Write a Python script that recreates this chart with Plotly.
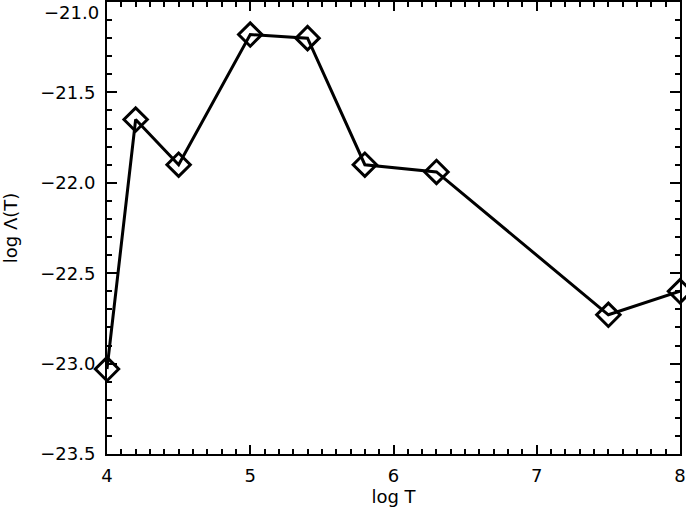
import plotly.graph_objects as go

# cooling function, log Lambda(T) vs log T
log_t = [4.0, 4.2, 4.5, 5.0, 5.4, 5.8, 6.3, 7.5, 8.0]
log_lambda = [-23.03, -21.65, -21.9, -21.18, -21.2, -21.9, -21.94, -22.73, -22.6]

x_ticks = [4, 5, 6, 7, 8]
y_ticks = [-23.5, -23.0, -22.5, -22.0, -21.5]
y_labels = ["\u221223.5", "\u221223.0", "\u221222.5", "\u221222.0", "\u221221.5"]
y_top_label = "\u221221.0"

font = dict(family="DejaVu Sans", size=18, color="black")

fig = go.Figure(go.Scatter(
    x=log_t,
    y=log_lambda,
    mode="lines+markers",
    line=dict(color="black", width=3),
    marker=dict(symbol="diamond-open", size=18, color="black", line=dict(width=3, color="black")),
    cliponaxis=False,
))

axis_common = dict(
    showline=True, linecolor="black", linewidth=2, mirror="allticks",
    ticks="inside", tickcolor="black", tickwidth=1.5,
    showgrid=False, zeroline=False, tickfont=font, automargin=False,
)

fig.update_xaxes(
    range=[4, 8], tickvals=x_ticks, ticklen=9,
    minor=dict(dtick=0.1, ticks="inside", ticklen=5, tickcolor="black", tickwidth=1.5, showgrid=False),
    ticklabelstandoff=4,
    title=dict(text="log T", font=font, standoff=6),
    **axis_common,
)
fig.update_yaxes(
    range=[-23.5, -21.0], tickvals=y_ticks, ticktext=y_labels, ticklen=10,
    minor=dict(dtick=0.1, ticks="inside", ticklen=5, tickcolor="black", tickwidth=1.5, showgrid=False),
    ticklabelstandoff=6,
    title=dict(text="log \u039b(T)", font=font, standoff=24),
    **axis_common,
)

# top tick label sits a little below its tick in the original, kept inside the page
fig.add_annotation(
    x=0, xref="paper", y=-21.0, yref="y", text=y_top_label, showarrow=False,
    xanchor="right", yanchor="middle", xshift=-6, yshift=-10, font=font,
)

fig.update_layout(
    width=686, height=517,
    margin=dict(l=107, r=6, t=2, b=63),
    plot_bgcolor="white", paper_bgcolor="white",
    showlegend=False,
)

# drop the default page margin so the figure sits at the window's corner
fig.write_html(
    "out.html",
    config={"displayModeBar": False},
    post_script="document.body.style.margin='0';",
)
